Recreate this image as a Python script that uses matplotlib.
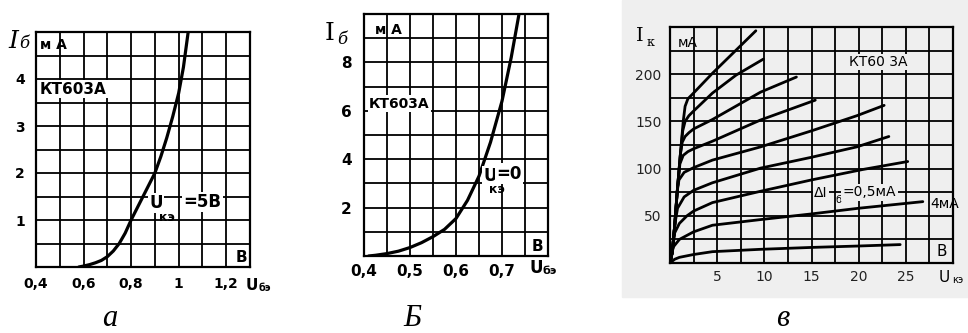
import numpy as np
import matplotlib
matplotlib.use('Agg')
from matplotlib import pyplot as plt
from matplotlib.patches import Rectangle

W, H = 968, 333

# panel a: I_b(U_be), U_ke = 5 V
ua = [0.58, 0.60, 0.625, 0.65, 0.675, 0.70, 0.725, 0.75, 0.775, 0.80, 0.825, 0.85,
      0.875, 0.90, 0.925, 0.95, 0.975, 1.00, 1.02, 1.04]
ia = [0.0, 0.02, 0.05, 0.09, 0.14, 0.22, 0.34, 0.5, 0.72, 1.0, 1.25, 1.5,
      1.75, 2.0, 2.35, 2.75, 3.2, 3.7, 4.25, 5.0]
a_xticks = [0.4, 0.5, 0.6, 0.7, 0.8, 0.9, 1.0, 1.1, 1.2, 1.3]
a_xlabels = ['0,4', '', '0,6', '', '0,8', '', '1', '', '1,2', '']
a_yticks = [0, 0.5, 1, 1.5, 2, 2.5, 3, 3.5, 4, 4.5, 5]
a_ylabels = ['', '', '1', '', '2', '', '3', '', '4', '', '']

# panel b: I_b(U_be), U_ke = 0
ub = [0.41, 0.425, 0.45, 0.475, 0.50, 0.525, 0.55, 0.575, 0.60, 0.625, 0.65,
      0.675, 0.70, 0.72, 0.737]
ib = [0.0, 0.03, 0.1, 0.2, 0.35, 0.55, 0.8, 1.1, 1.55, 2.3, 3.3,
      4.7, 6.4, 8.2, 10.0]
b_xticks = [0.4, 0.45, 0.5, 0.55, 0.6, 0.65, 0.7, 0.75, 0.8]
b_xlabels = ['0,4', '', '0,5', '', '0,6', '', '0,7', '', '']
b_yticks = [0, 1, 2, 3, 4, 5, 6, 7, 8, 9, 10]
b_ylabels = ['', '', '2', '', '4', '', '6', '', '8', '', '']

# panel c: I_k(U_ke), step of I_b = 0.5 mA
uk = [
    [0, 0.25, 0.5, 0.8, 1.1, 1.4, 1.6, 1.9, 2.3, 4.5, 9.1],
    [0, 0.25, 0.5, 0.8, 1.1, 1.35, 1.6, 2.0, 2.5, 4.5, 7.0, 9.9],
    [0, 0.25, 0.5, 0.8, 1.1, 1.3, 1.6, 2.0, 2.5, 4.5, 9.6, 13.4],
    [0, 0.25, 0.5, 0.8, 1.05, 1.4, 1.9, 2.5, 4.5, 9.6, 15.4],
    [0, 0.25, 0.5, 0.75, 0.95, 1.5, 2.5, 4.5, 9.6, 15, 19.8, 22.7],
    [0, 0.25, 0.5, 0.8, 1.5, 2.5, 4.5, 9.6, 15, 19.8, 23.2],
    [0, 0.25, 0.5, 1.0, 1.8, 2.5, 4.5, 9.6, 15, 20.4, 25.2],
    [0, 0.35, 1.0, 2.5, 4.5, 9.6, 15, 20, 26.8],
    [0, 0.5, 1.0, 2.5, 4.5, 9.6, 15, 20, 24.4],
]
ik = [
    [0, 12, 40, 80, 115, 150, 166, 174, 178, 201, 246],
    [0, 12, 40, 80, 115, 140, 150, 156, 161, 180, 199, 216],
    [0, 12, 40, 80, 115, 128, 134, 138, 142, 152, 181, 197],
    [0, 12, 40, 80, 105, 114, 118, 121, 129, 151.5, 172.5],
    [0, 12, 40, 75, 88, 96, 101, 109, 123, 140, 156, 167],
    [0, 12, 40, 58, 70, 77, 85, 100.5, 112, 123, 134],
    [0, 12, 32, 42, 50, 55, 64, 76, 88, 99, 107.5],
    [0, 17, 25, 33, 40, 46, 52, 58, 65],
    [0, 4, 6, 9, 12, 14.5, 16.5, 18, 19.5],
]
c_xticks = [0, 2.5, 5, 7.5, 10, 12.5, 15, 17.5, 20, 22.5, 25, 27.5, 30]
c_xlabels = ['', '', '5', '', '10', '', '15', '', '20', '', '25', '', '']
c_yticks = [0, 25, 50, 75, 100, 125, 150, 175, 200, 225, 250]
c_ylabels = ['', '', '50', '', '100', '', '150', '', '200', '', '']


def px_axes(fig, l, t, r, b):
    return fig.add_axes([l / W, 1 - b / H, (r - l) / W, (b - t) / H])


def ftext(fig, x, y, s, **kw):
    fig.text(x / W, 1 - y / H, s, **kw)


def setup(ax, xt, xl, yt, yl, size, weight, pad_x, pad_y, color='k'):
    ax.set_xlim(xt[0], xt[-1])
    ax.set_ylim(yt[0], yt[-1])
    ax.set_xticks(xt)
    ax.set_xticklabels(xl)
    ax.set_yticks(yt)
    ax.set_yticklabels(yl)
    ax.tick_params(length=0, labelsize=size, labelcolor=color)
    ax.tick_params(axis='x', pad=pad_x)
    ax.tick_params(axis='y', pad=pad_y)
    for lab in ax.get_xticklabels() + ax.get_yticklabels():
        lab.set_fontweight(weight)
    ax.grid(True, color='k', lw=1.3, zorder=1)
    ax.set_axisbelow(True)
    for sp in ax.spines.values():
        sp.set_linewidth(1.6)
    ax.set_facecolor('none')


fig = plt.figure(figsize=(W / 100, H / 100), dpi=100)
fig.patches.append(Rectangle((622 / W, 1 - 297 / H), (W - 622) / W, 297 / H,
                             transform=fig.transFigure, color='#efefef', zorder=-5))

box = dict(facecolor='white', edgecolor='none', pad=1)
box_c = dict(facecolor='#efefef', edgecolor='none', pad=1)
bold = dict(fontweight='bold', family='DejaVu Sans')
line = dict(color='k', solid_capstyle='round', solid_joinstyle='round', zorder=3)

# ---- a
ax = px_axes(fig, 36, 32, 250, 267)
setup(ax, a_xticks, a_xlabels, a_yticks, a_ylabels, 10, 'bold', 7, 8)
ax.plot(ua, ia, lw=2.3, **line)
ax.text(0.415, 4.72, 'м А', fontsize=10, va='center', **bold)
ax.text(0.415, 3.78, 'КТ603А', fontsize=11, va='center', bbox=box, zorder=4, **bold)
ax.text(0.905, 1.36, 'U', fontsize=12, va='center', ha='center', bbox=box, zorder=4, **bold)
ax.text(0.95, 1.05, 'кэ', fontsize=9, va='center', ha='center', zorder=4, **bold)
ax.text(1.10, 1.38, '=5В', fontsize=12, va='center', ha='center', bbox=box, zorder=4, **bold)
ax.text(1.262, 0.2, 'В', fontsize=11, va='center', ha='center', **bold)
ftext(fig, 13, 42, 'I', fontsize=18, family='DejaVu Serif', style='italic', ha='center', va='center')
ftext(fig, 24, 44, 'б', fontsize=12, family='DejaVu Serif', style='italic', ha='center', va='center')
ftext(fig, 252, 285, 'U', fontsize=11, ha='center', va='center', **bold)
ftext(fig, 265, 288, 'бэ', fontsize=7, ha='center', va='center', **bold)
ftext(fig, 110, 318, 'а', fontsize=22, family='Liberation Serif', style='italic', ha='center', va='center')

# ---- b
ax = px_axes(fig, 364, 14, 548, 256)
setup(ax, b_xticks, b_xlabels, b_yticks, b_ylabels, 11, 'bold', 6, 9)
ax.plot(ub, ib, lw=2.3, **line)
ax.text(0.423, 9.35, 'м А', fontsize=10, va='center', **bold)
ax.text(0.411, 6.3, 'КТ603А', fontsize=10, va='center', bbox=box, zorder=4, **bold)
ax.text(0.675, 3.3, 'U', fontsize=12, va='center', ha='center', bbox=box, zorder=4, **bold)
ax.text(0.688, 2.75, 'кэ', fontsize=9, va='center', ha='center', zorder=4, **bold)
ax.text(0.716, 3.4, '=0', fontsize=12, va='center', ha='center', bbox=box, zorder=4, **bold)
ax.text(0.778, 0.4, 'В', fontsize=11, va='center', ha='center', **bold)
ftext(fig, 330, 33, 'I', fontsize=18, family='DejaVu Serif', ha='center', va='center')
ftext(fig, 342, 39, 'б', fontsize=12, family='DejaVu Serif', style='italic', ha='center', va='center')
ftext(fig, 536, 268, 'U', fontsize=12, ha='center', va='center', **bold)
ftext(fig, 550, 271, 'бэ', fontsize=8, ha='center', va='center', **bold)
ftext(fig, 412, 318, 'Б', fontsize=22, family='Liberation Serif', style='italic', ha='center', va='center')

# ---- c
ax = px_axes(fig, 670, 27, 953, 263)
setup(ax, c_xticks, c_xlabels, c_yticks, c_ylabels, 10, 'normal', 5, 6, color='#222222')
for u, i in zip(uk, ik):
    ax.plot(u, i, lw=2.0, **line)
ax.text(0.8, 233, 'мА', fontsize=10, va='center', family='DejaVu Sans')
ax.text(19.0, 213, 'КТ60 3А', fontsize=10, va='center', bbox=box_c, zorder=4, family='DejaVu Sans')
ax.text(15.3, 74, 'ΔI', fontsize=10, va='center', bbox=box_c, zorder=4, family='DejaVu Sans')
ax.text(17.5, 67, 'б', fontsize=7, va='center', zorder=4, family='DejaVu Sans')
ax.text(18.3, 75, '=0,5мА', fontsize=10, va='center', bbox=box_c, zorder=4, family='DejaVu Sans')
ax.text(27.6, 63, '4мА', fontsize=10, va='center', zorder=4, family='DejaVu Sans', clip_on=False)
ax.text(28.8, 12, 'В', fontsize=11, va='center', ha='center', family='DejaVu Sans')
ftext(fig, 640, 36, 'I', fontsize=14, family='DejaVu Serif', ha='center', va='center')
ftext(fig, 650, 42, 'к', fontsize=9, family='DejaVu Serif', ha='center', va='center')
ftext(fig, 944, 278, 'U', fontsize=11, ha='center', va='center', family='DejaVu Sans')
ftext(fig, 958, 280, 'кэ', fontsize=7, ha='center', va='center', family='DejaVu Sans')
ftext(fig, 783, 318, 'в', fontsize=22, family='Liberation Serif', style='italic', ha='center', va='center')

fig.savefig('out.png', dpi=100)
